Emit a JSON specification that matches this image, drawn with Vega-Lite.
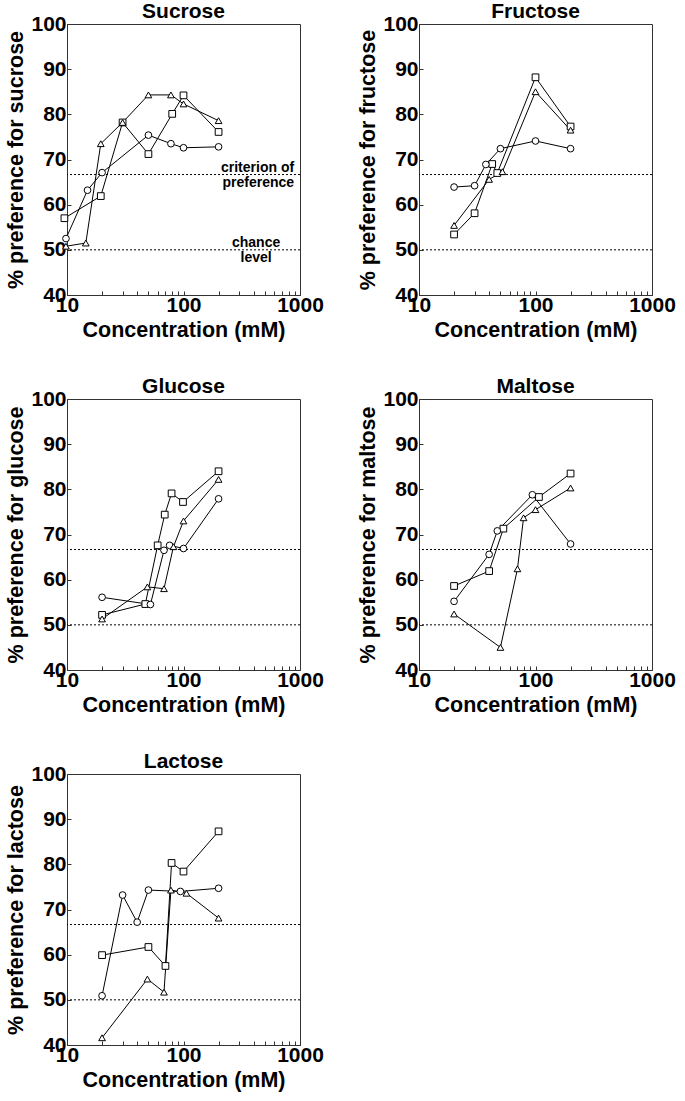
{
  "$schema": "https://vega.github.io/schema/vega-lite/v6.json",
  "padding": {"left": 5, "top": 0, "right": 5, "bottom": 2},
  "background": "white",
  "datasets": {
    "d": [
      {"sugar": "Sucrose", "group": "A", "conc": 9.5, "pref": 57.0},
      {"sugar": "Sucrose", "group": "A", "conc": 19.5, "pref": 61.9},
      {"sugar": "Sucrose", "group": "A", "conc": 30, "pref": 78.2},
      {"sugar": "Sucrose", "group": "A", "conc": 50, "pref": 71.2},
      {"sugar": "Sucrose", "group": "A", "conc": 80, "pref": 80.1},
      {"sugar": "Sucrose", "group": "A", "conc": 100, "pref": 84.2},
      {"sugar": "Sucrose", "group": "A", "conc": 200, "pref": 76.1},
      {"sugar": "Sucrose", "group": "B", "conc": 9.8, "pref": 52.5},
      {"sugar": "Sucrose", "group": "B", "conc": 15, "pref": 63.2},
      {"sugar": "Sucrose", "group": "B", "conc": 20, "pref": 67.1},
      {"sugar": "Sucrose", "group": "B", "conc": 50, "pref": 75.4},
      {"sugar": "Sucrose", "group": "B", "conc": 78, "pref": 73.5},
      {"sugar": "Sucrose", "group": "B", "conc": 100, "pref": 72.6},
      {"sugar": "Sucrose", "group": "B", "conc": 200, "pref": 72.8},
      {"sugar": "Sucrose", "group": "C", "conc": 9.8, "pref": 50.8},
      {"sugar": "Sucrose", "group": "C", "conc": 14.5, "pref": 51.5},
      {"sugar": "Sucrose", "group": "C", "conc": 19.5, "pref": 73.5},
      {"sugar": "Sucrose", "group": "C", "conc": 30, "pref": 78.2},
      {"sugar": "Sucrose", "group": "C", "conc": 50, "pref": 84.3},
      {"sugar": "Sucrose", "group": "C", "conc": 78, "pref": 84.3},
      {"sugar": "Sucrose", "group": "C", "conc": 100, "pref": 82.3},
      {"sugar": "Sucrose", "group": "C", "conc": 200, "pref": 78.6},

      {"sugar": "Fructose", "group": "A", "conc": 20, "pref": 53.4},
      {"sugar": "Fructose", "group": "A", "conc": 30, "pref": 58.1},
      {"sugar": "Fructose", "group": "A", "conc": 42.5, "pref": 69.0},
      {"sugar": "Fructose", "group": "A", "conc": 47, "pref": 67.0},
      {"sugar": "Fructose", "group": "A", "conc": 100, "pref": 88.2},
      {"sugar": "Fructose", "group": "A", "conc": 200, "pref": 77.3},
      {"sugar": "Fructose", "group": "B", "conc": 20, "pref": 63.9},
      {"sugar": "Fructose", "group": "B", "conc": 30, "pref": 64.2},
      {"sugar": "Fructose", "group": "B", "conc": 37.5, "pref": 68.9},
      {"sugar": "Fructose", "group": "B", "conc": 50, "pref": 72.4},
      {"sugar": "Fructose", "group": "B", "conc": 100, "pref": 74.1},
      {"sugar": "Fructose", "group": "B", "conc": 200, "pref": 72.4},
      {"sugar": "Fructose", "group": "C", "conc": 20, "pref": 55.4},
      {"sugar": "Fructose", "group": "C", "conc": 40, "pref": 65.6},
      {"sugar": "Fructose", "group": "C", "conc": 52, "pref": 67.3},
      {"sugar": "Fructose", "group": "C", "conc": 100, "pref": 85.0},
      {"sugar": "Fructose", "group": "C", "conc": 200, "pref": 76.5},

      {"sugar": "Glucose", "group": "A", "conc": 20, "pref": 52.2},
      {"sugar": "Glucose", "group": "A", "conc": 47, "pref": 54.6},
      {"sugar": "Glucose", "group": "A", "conc": 60, "pref": 67.6},
      {"sugar": "Glucose", "group": "A", "conc": 69, "pref": 74.4},
      {"sugar": "Glucose", "group": "A", "conc": 79, "pref": 79.1},
      {"sugar": "Glucose", "group": "A", "conc": 99, "pref": 77.2},
      {"sugar": "Glucose", "group": "A", "conc": 200, "pref": 84.0},
      {"sugar": "Glucose", "group": "B", "conc": 20, "pref": 56.1},
      {"sugar": "Glucose", "group": "B", "conc": 52, "pref": 54.5},
      {"sugar": "Glucose", "group": "B", "conc": 68, "pref": 66.5},
      {"sugar": "Glucose", "group": "B", "conc": 76, "pref": 67.6},
      {"sugar": "Glucose", "group": "B", "conc": 100, "pref": 66.9},
      {"sugar": "Glucose", "group": "B", "conc": 200, "pref": 77.9},
      {"sugar": "Glucose", "group": "C", "conc": 20, "pref": 51.3},
      {"sugar": "Glucose", "group": "C", "conc": 49, "pref": 58.4},
      {"sugar": "Glucose", "group": "C", "conc": 68, "pref": 58.0},
      {"sugar": "Glucose", "group": "C", "conc": 82, "pref": 67.3},
      {"sugar": "Glucose", "group": "C", "conc": 100, "pref": 73.0},
      {"sugar": "Glucose", "group": "C", "conc": 200, "pref": 82.2},

      {"sugar": "Maltose", "group": "A", "conc": 20, "pref": 58.6},
      {"sugar": "Maltose", "group": "A", "conc": 40, "pref": 61.9},
      {"sugar": "Maltose", "group": "A", "conc": 53, "pref": 71.3},
      {"sugar": "Maltose", "group": "A", "conc": 107, "pref": 78.3},
      {"sugar": "Maltose", "group": "A", "conc": 200, "pref": 83.5},
      {"sugar": "Maltose", "group": "B", "conc": 20, "pref": 55.2},
      {"sugar": "Maltose", "group": "B", "conc": 40, "pref": 65.6},
      {"sugar": "Maltose", "group": "B", "conc": 47, "pref": 70.8},
      {"sugar": "Maltose", "group": "B", "conc": 94, "pref": 78.8},
      {"sugar": "Maltose", "group": "B", "conc": 200, "pref": 67.9},
      {"sugar": "Maltose", "group": "C", "conc": 20, "pref": 52.4},
      {"sugar": "Maltose", "group": "C", "conc": 50, "pref": 45.0},
      {"sugar": "Maltose", "group": "C", "conc": 70, "pref": 62.4},
      {"sugar": "Maltose", "group": "C", "conc": 79, "pref": 73.7},
      {"sugar": "Maltose", "group": "C", "conc": 100, "pref": 75.5},
      {"sugar": "Maltose", "group": "C", "conc": 200, "pref": 80.3},

      {"sugar": "Lactose", "group": "A", "conc": 20, "pref": 59.9},
      {"sugar": "Lactose", "group": "A", "conc": 50, "pref": 61.7},
      {"sugar": "Lactose", "group": "A", "conc": 70, "pref": 57.5},
      {"sugar": "Lactose", "group": "A", "conc": 79, "pref": 80.3},
      {"sugar": "Lactose", "group": "A", "conc": 100, "pref": 78.4},
      {"sugar": "Lactose", "group": "A", "conc": 200, "pref": 87.3},
      {"sugar": "Lactose", "group": "B", "conc": 20, "pref": 50.9},
      {"sugar": "Lactose", "group": "B", "conc": 30, "pref": 73.2},
      {"sugar": "Lactose", "group": "B", "conc": 40, "pref": 67.2},
      {"sugar": "Lactose", "group": "B", "conc": 50, "pref": 74.3},
      {"sugar": "Lactose", "group": "B", "conc": 94, "pref": 74.0},
      {"sugar": "Lactose", "group": "B", "conc": 200, "pref": 74.7},
      {"sugar": "Lactose", "group": "C", "conc": 20, "pref": 41.6},
      {"sugar": "Lactose", "group": "C", "conc": 49, "pref": 54.6},
      {"sugar": "Lactose", "group": "C", "conc": 68, "pref": 51.7},
      {"sugar": "Lactose", "group": "C", "conc": 78, "pref": 74.3},
      {"sugar": "Lactose", "group": "C", "conc": 106, "pref": 73.6},
      {"sugar": "Lactose", "group": "C", "conc": 200, "pref": 68.1}
    ],
    "refs": [
      {"level": 50, "name": "chance level"},
      {"level": 66.67, "name": "criterion of preference"}
    ],
    "criterion": [
      {"conc": 890, "level": 66.67, "text": ["criterion of", "preference"]}
    ],
    "chance": [
      {"conc": 420, "level": 50, "text": ["chance", "level"]}
    ]
  },
  "config": {
    "font": "Liberation Sans",
    "view": {"stroke": "#333", "strokeWidth": 1},
    "axis": {
      "labelFont": "Liberation Sans", "labelFontWeight": "bold", "labelFontSize": 21, "labelColor": "black",
      "titleFont": "Liberation Sans", "titleFontWeight": "bold", "titleFontSize": 21.5, "titleColor": "black",
      "domainColor": "#333", "tickColor": "#333", "tickWidth": 1, "grid": false, "labelOverlap": false, "labelFlush": false
    },
    "title": {"font": "Liberation Sans", "fontSize": 21, "fontWeight": "bold", "color": "black", "offset": -9, "frame": "group"}
  },
  "columns": 2,
  "bounds": "flush",
  "spacing": {"row": 104, "column": 119},
  "concat": [
    {
      "title": "Sucrose", "width": 233, "height": 271,
      "layer": [
        {"data": {"name": "refs"}, "mark": {"type": "rule", "color": "black", "strokeWidth": 1, "strokeDash": [2, 2]},
         "encoding": {"y": {"field": "level", "type": "quantitative", "scale": {"domain": [40, 100], "nice": false, "zero": false},
           "axis": {"title": "% preference for sucrose", "values": [40,45,50,55,60,65,70,75,80,85,90,95,100], "labelExpr": "datum.value % 10 == 0 ? datum.label : ''", "tickSize": -4, "labelPadding": 5, "titlePadding": 3}}}},
        {"data": {"name": "criterion"}, "mark": {"type": "text", "fontSize": 14, "fontWeight": "bold", "font": "Liberation Sans", "baseline": "middle", "align": "right", "lineHeight": 15, "dy": -7, "color": "black"},
         "encoding": {"x": {"field": "conc", "type": "quantitative", "scale": {"type": "log", "domain": [10, 1000], "nice": false}},
           "y": {"field": "level", "type": "quantitative"}, "text": {"field": "text"}}},
        {"data": {"name": "chance"}, "mark": {"type": "text", "fontSize": 14, "fontWeight": "bold", "font": "Liberation Sans", "baseline": "middle", "align": "center", "lineHeight": 15, "dy": -7, "color": "black"},
         "encoding": {"x": {"field": "conc", "type": "quantitative"},
           "y": {"field": "level", "type": "quantitative"}, "text": {"field": "text"}}},
        {"data": {"name": "d"}, "transform": [{"filter": "datum.sugar == 'Sucrose'"}], "mark": {"type": "line", "color": "black", "strokeWidth": 1},
         "encoding": {"x": {"field": "conc", "type": "quantitative", "scale": {"type": "log", "domain": [10, 1000], "nice": false},
           "axis": {"title": "Concentration (mM)", "values": [10,20,30,40,50,60,70,80,90,100,200,300,400,500,600,700,800,900,1000], "format": "d", "labelExpr": "datum.value == 10 || datum.value == 100 || datum.value == 1000 ? datum.label : ''", "tickSize": -4, "labelPadding": 3, "titlePadding": 4}},
           "y": {"field": "pref", "type": "quantitative"}, "detail": {"field": "group"}}},
        {"data": {"name": "d"}, "transform": [{"filter": "datum.sugar == 'Sucrose'"}], "mark": {"type": "point", "filled": true, "fill": "white", "stroke": "black", "strokeWidth": 1, "opacity": 1, "size": 45},
         "encoding": {"x": {"field": "conc", "type": "quantitative"}, "y": {"field": "pref", "type": "quantitative"},
           "shape": {"field": "group", "type": "nominal", "scale": {"domain": ["A", "B", "C"], "range": ["square", "circle", "triangle-up"]}, "legend": null}}}
      ]
    },
    {
      "title": "Fructose", "width": 233, "height": 271,
      "layer": [
        {"data": {"name": "refs"}, "mark": {"type": "rule", "color": "black", "strokeWidth": 1, "strokeDash": [2, 2]},
         "encoding": {"y": {"field": "level", "type": "quantitative", "scale": {"domain": [40, 100], "nice": false, "zero": false},
           "axis": {"title": "% preference for fructose", "values": [40,45,50,55,60,65,70,75,80,85,90,95,100], "labelExpr": "datum.value % 10 == 0 ? datum.label : ''", "tickSize": -4, "labelPadding": 5, "titlePadding": 3}}}},
        {"data": {"name": "d"}, "transform": [{"filter": "datum.sugar == 'Fructose'"}], "mark": {"type": "line", "color": "black", "strokeWidth": 1},
         "encoding": {"x": {"field": "conc", "type": "quantitative", "scale": {"type": "log", "domain": [10, 1000], "nice": false},
           "axis": {"title": "Concentration (mM)", "values": [10,20,30,40,50,60,70,80,90,100,200,300,400,500,600,700,800,900,1000], "format": "d", "labelExpr": "datum.value == 10 || datum.value == 100 || datum.value == 1000 ? datum.label : ''", "tickSize": -4, "labelPadding": 3, "titlePadding": 4}},
           "y": {"field": "pref", "type": "quantitative"}, "detail": {"field": "group"}}},
        {"data": {"name": "d"}, "transform": [{"filter": "datum.sugar == 'Fructose'"}], "mark": {"type": "point", "filled": true, "fill": "white", "stroke": "black", "strokeWidth": 1, "opacity": 1, "size": 45},
         "encoding": {"x": {"field": "conc", "type": "quantitative"}, "y": {"field": "pref", "type": "quantitative"},
           "shape": {"field": "group", "type": "nominal", "scale": {"domain": ["A", "B", "C"], "range": ["square", "circle", "triangle-up"]}, "legend": null}}}
      ]
    },
    {
      "title": "Glucose", "width": 233, "height": 271,
      "layer": [
        {"data": {"name": "refs"}, "mark": {"type": "rule", "color": "black", "strokeWidth": 1, "strokeDash": [2, 2]},
         "encoding": {"y": {"field": "level", "type": "quantitative", "scale": {"domain": [40, 100], "nice": false, "zero": false},
           "axis": {"title": "% preference for glucose", "values": [40,45,50,55,60,65,70,75,80,85,90,95,100], "labelExpr": "datum.value % 10 == 0 ? datum.label : ''", "tickSize": -4, "labelPadding": 5, "titlePadding": 3}}}},
        {"data": {"name": "d"}, "transform": [{"filter": "datum.sugar == 'Glucose'"}], "mark": {"type": "line", "color": "black", "strokeWidth": 1},
         "encoding": {"x": {"field": "conc", "type": "quantitative", "scale": {"type": "log", "domain": [10, 1000], "nice": false},
           "axis": {"title": "Concentration (mM)", "values": [10,20,30,40,50,60,70,80,90,100,200,300,400,500,600,700,800,900,1000], "format": "d", "labelExpr": "datum.value == 10 || datum.value == 100 || datum.value == 1000 ? datum.label : ''", "tickSize": -4, "labelPadding": 3, "titlePadding": 4}},
           "y": {"field": "pref", "type": "quantitative"}, "detail": {"field": "group"}}},
        {"data": {"name": "d"}, "transform": [{"filter": "datum.sugar == 'Glucose'"}], "mark": {"type": "point", "filled": true, "fill": "white", "stroke": "black", "strokeWidth": 1, "opacity": 1, "size": 45},
         "encoding": {"x": {"field": "conc", "type": "quantitative"}, "y": {"field": "pref", "type": "quantitative"},
           "shape": {"field": "group", "type": "nominal", "scale": {"domain": ["A", "B", "C"], "range": ["square", "circle", "triangle-up"]}, "legend": null}}}
      ]
    },
    {
      "title": "Maltose", "width": 233, "height": 271,
      "layer": [
        {"data": {"name": "refs"}, "mark": {"type": "rule", "color": "black", "strokeWidth": 1, "strokeDash": [2, 2]},
         "encoding": {"y": {"field": "level", "type": "quantitative", "scale": {"domain": [40, 100], "nice": false, "zero": false},
           "axis": {"title": "% preference for maltose", "values": [40,45,50,55,60,65,70,75,80,85,90,95,100], "labelExpr": "datum.value % 10 == 0 ? datum.label : ''", "tickSize": -4, "labelPadding": 5, "titlePadding": 3}}}},
        {"data": {"name": "d"}, "transform": [{"filter": "datum.sugar == 'Maltose'"}], "mark": {"type": "line", "color": "black", "strokeWidth": 1},
         "encoding": {"x": {"field": "conc", "type": "quantitative", "scale": {"type": "log", "domain": [10, 1000], "nice": false},
           "axis": {"title": "Concentration (mM)", "values": [10,20,30,40,50,60,70,80,90,100,200,300,400,500,600,700,800,900,1000], "format": "d", "labelExpr": "datum.value == 10 || datum.value == 100 || datum.value == 1000 ? datum.label : ''", "tickSize": -4, "labelPadding": 3, "titlePadding": 4}},
           "y": {"field": "pref", "type": "quantitative"}, "detail": {"field": "group"}}},
        {"data": {"name": "d"}, "transform": [{"filter": "datum.sugar == 'Maltose'"}], "mark": {"type": "point", "filled": true, "fill": "white", "stroke": "black", "strokeWidth": 1, "opacity": 1, "size": 45},
         "encoding": {"x": {"field": "conc", "type": "quantitative"}, "y": {"field": "pref", "type": "quantitative"},
           "shape": {"field": "group", "type": "nominal", "scale": {"domain": ["A", "B", "C"], "range": ["square", "circle", "triangle-up"]}, "legend": null}}}
      ]
    },
    {
      "title": "Lactose", "width": 233, "height": 271,
      "layer": [
        {"data": {"name": "refs"}, "mark": {"type": "rule", "color": "black", "strokeWidth": 1, "strokeDash": [2, 2]},
         "encoding": {"y": {"field": "level", "type": "quantitative", "scale": {"domain": [40, 100], "nice": false, "zero": false},
           "axis": {"title": "% preference for lactose", "values": [40,45,50,55,60,65,70,75,80,85,90,95,100], "labelExpr": "datum.value % 10 == 0 ? datum.label : ''", "tickSize": -4, "labelPadding": 5, "titlePadding": 3}}}},
        {"data": {"name": "d"}, "transform": [{"filter": "datum.sugar == 'Lactose'"}], "mark": {"type": "line", "color": "black", "strokeWidth": 1},
         "encoding": {"x": {"field": "conc", "type": "quantitative", "scale": {"type": "log", "domain": [10, 1000], "nice": false},
           "axis": {"title": "Concentration (mM)", "values": [10,20,30,40,50,60,70,80,90,100,200,300,400,500,600,700,800,900,1000], "format": "d", "labelExpr": "datum.value == 10 || datum.value == 100 || datum.value == 1000 ? datum.label : ''", "tickSize": -4, "labelPadding": 3, "titlePadding": 4}},
           "y": {"field": "pref", "type": "quantitative"}, "detail": {"field": "group"}}},
        {"data": {"name": "d"}, "transform": [{"filter": "datum.sugar == 'Lactose'"}], "mark": {"type": "point", "filled": true, "fill": "white", "stroke": "black", "strokeWidth": 1, "opacity": 1, "size": 45},
         "encoding": {"x": {"field": "conc", "type": "quantitative"}, "y": {"field": "pref", "type": "quantitative"},
           "shape": {"field": "group", "type": "nominal", "scale": {"domain": ["A", "B", "C"], "range": ["square", "circle", "triangle-up"]}, "legend": null}}}
      ]
    }
  ]
}
